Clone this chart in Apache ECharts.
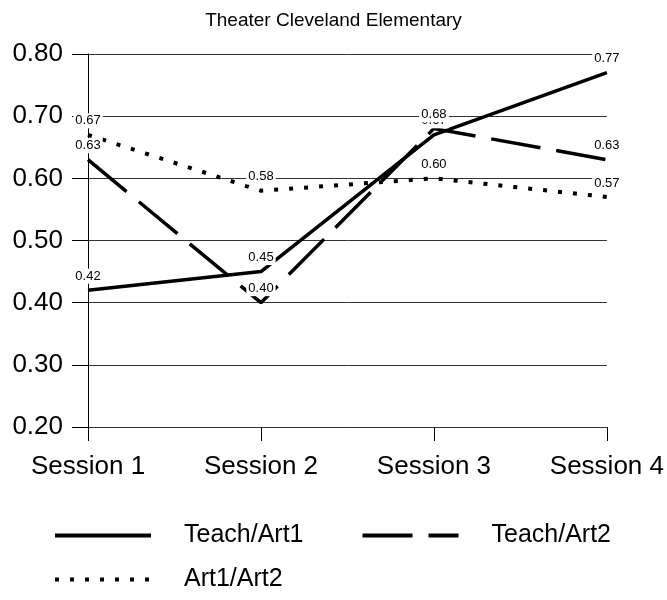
<!DOCTYPE html>
<html><head><meta charset="utf-8">
<script src="https://cdn.jsdelivr.net/npm/echarts@6/dist/echarts.min.js"></script>
<style>html,body{margin:0;padding:0;background:#fff}#c{width:667px;height:600px}</style>
</head><body><div id="c"></div>
<script>
var categories = ['Session 1', 'Session 2', 'Session 3', 'Session 4'];
var teachArt1 = [0.42, 0.45, 0.67, 0.77];
var teachArt2 = [0.63, 0.40, 0.68, 0.63];
var art1Art2 = [0.67, 0.58, 0.60, 0.57];
var yTicks = [0.20, 0.30, 0.40, 0.50, 0.60, 0.70, 0.80];

var FONT = 'Liberation Sans, Arial, sans-serif';
var chart = echarts.init(document.getElementById('c'), null, {renderer: 'canvas'});
function mk(name, data, dash, width) {
  return {
    name: name, type: 'line', data: data, symbol: 'circle', symbolSize: 1, showSymbol: true,
    animation: false,
    lineStyle: {color: '#000', width: width, type: dash, cap: 'butt'},
    itemStyle: {color: 'rgba(0,0,0,0)', borderWidth: 0},
    emphasis: {disabled: true},
    label: {
      show: true, position: 'top', distance: 6, color: '#000', fontFamily: FONT, fontSize: 13,
      backgroundColor: '#fff', padding: [1, 2],
      formatter: function (p) { return Number(p.value).toFixed(2); }
    }
  };
}
var legendCommon = {
  itemWidth: 96, itemHeight: 14, padding: 0,
  itemStyle: {color: 'rgba(0,0,0,0)', borderWidth: 0},
  lineStyle: {width: 4, color: '#000'},
  textStyle: {fontFamily: FONT, fontSize: 25, color: '#000', padding: [0, 0, 0, 28]}
};
chart.setOption({
  animation: false,
  backgroundColor: '#fff',
  title: {text: 'Theater Cleveland Elementary', left: 'center', top: 6,
    textStyle: {fontFamily: FONT, fontSize: 19, fontWeight: 'normal', color: '#000'}},
  grid: {left: 88, right: 58, top: 54, bottom: 173, containLabel: false},
  legend: [Object.assign({
    data: ['Teach/Art1', 'Teach/Art2'], left: 53, top: 523, itemGap: 57
  }, legendCommon), Object.assign({
    data: ['Art1/Art2'], left: 53, top: 567
  }, legendCommon)],
  xAxis: {
    type: 'category', data: categories, boundaryGap: false,
    axisLine: {show: false},
    axisTick: {show: true, alignWithLabel: true, length: 14, lineStyle: {color: '#000'}},
    axisLabel: {fontFamily: FONT, fontSize: 26, color: '#000', margin: 27},
    splitLine: {show: false}
  },
  yAxis: {
    type: 'value', min: 0.2, max: 0.8, interval: 0.1,
    axisLine: {show: true, lineStyle: {color: '#000', width: 1}},
    axisTick: {show: true, length: 16, lineStyle: {color: '#000'}},
    axisLabel: {fontFamily: FONT, fontSize: 26, color: '#000', margin: 25,
      formatter: function (v) {
        for (var i = 0; i < yTicks.length; i++) { if (Math.abs(yTicks[i] - v) < 1e-6) return yTicks[i].toFixed(2); }
        return '';
      }},
    splitLine: {show: true, lineStyle: {color: '#333', width: 1}}
  },
  series: [
    mk('Teach/Art1', teachArt1, 'solid', 3.5),
    mk('Teach/Art2', teachArt2, [50, 16], 3.5),
    mk('Art1/Art2', art1Art2, [4, 11], 4)
  ]
});
</script></body></html>
